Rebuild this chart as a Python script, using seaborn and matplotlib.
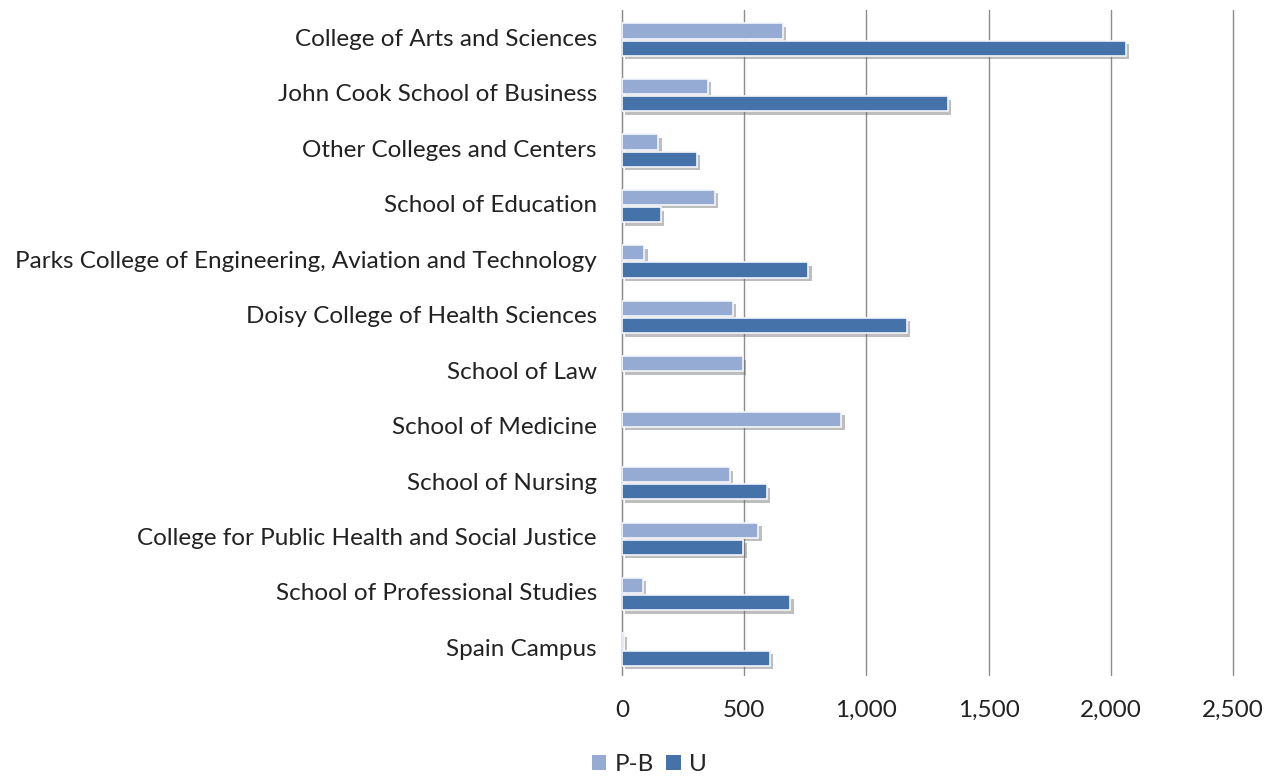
import numpy as np
import pandas as pd
import seaborn as sns
import matplotlib.pyplot as plt
import matplotlib.patheffects as pe
from matplotlib.patches import Patch

colleges = [
    "College of Arts and Sciences",
    "John Cook School of Business",
    "Other Colleges and Centers",
    "School of Education",
    "Parks College of Engineering, Aviation and Technology",
    "Doisy College of Health Sciences",
    "School of Law",
    "School of Medicine",
    "School of Nursing",
    "College for Public Health and Social Justice",
    "School of Professional Studies",
    "Spain Campus",
]
pb_values = [657, 352, 148, 380, 91, 454, 495, 898, 441, 557, 86, 8]
u_values = [2062, 1333, 307, 159, 763, 1165, 0, 0, 593, 496, 689, 605]
series = ["P-B", "U"]
x_ticks = [0, 500, 1000, 1500, 2000, 2500]

df = pd.DataFrame({
    "College": colleges * 2,
    "Count": pb_values + u_values,
    "Series": [series[0]] * len(colleges) + [series[1]] * len(colleges),
})

sns.set_style("white")
plt.rcParams['font.family'] = ['Lato', 'DejaVu Sans']

fig = plt.figure(figsize=(12.73, 7.76), dpi=100)
ax = fig.add_axes([0.4886, 0.130, 0.48, 0.8575])

palette = {"P-B": "#95abd3", "U": "#4572a8"}
sns.barplot(data=df, y="College", x="Count", hue="Series", order=colleges,
            hue_order=series, palette=palette, orient="h", width=0.62, gap=0.12,
            edgecolor="#f4f6fb", linewidth=1.2, saturation=1, ax=ax, zorder=3,
            legend=False)

# drop shadow like the office chart, hide empty bars
for bar in ax.patches:
    if bar.get_width() == 0:
        bar.set_visible(False)
        continue
    bar.set_y(bar.get_y() + 0.04)
    bar.set_path_effects([pe.SimplePatchShadow(offset=(2.5, -2.5), shadow_rgbFace="#6f6f6f", alpha=0.45),
                          pe.Normal()])

fs = 17.5
ax.set_xlim(0, 2500)
ax.set_xticks(x_ticks)
ax.set_xticklabels([f"{t:,}" for t in x_ticks], fontsize=fs, color="#222222")
ax.set_ylim(len(colleges) - 0.5, -0.5)
ax.set_yticks(np.arange(len(colleges)))
ax.set_yticklabels(colleges, fontsize=fs, color="#222222")
ax.tick_params(axis="y", length=0, pad=18)
ax.set_yticks(np.arange(len(colleges) + 1) - 0.5, minor=True)
ax.tick_params(axis="y", which="minor", length=7, color="#888888", width=1)
ax.tick_params(axis="x", length=6, color="#888888", width=1, pad=12)

ax.grid(axis="x", color="#8c8c8c", linewidth=1)
for gl in ax.get_xgridlines():
    gl.set_clip_on(False)
ax.set_axisbelow(True)
for s in ["top", "right", "bottom"]:
    ax.spines[s].set_visible(False)
ax.spines["left"].set_color("#8c8c8c")
ax.set_xlabel("")
ax.set_ylabel("")

handles = [Patch(facecolor=palette[s], edgecolor="none", label=s) for s in series]
ax.legend(handles=handles, loc="upper center", bbox_to_anchor=(0.045, -0.086), ncol=2,
          frameon=False, fontsize=fs, handlelength=0.6, handleheight=0.6,
          handletextpad=0.35, columnspacing=0.5)

fig.savefig("out.png", dpi=100)
